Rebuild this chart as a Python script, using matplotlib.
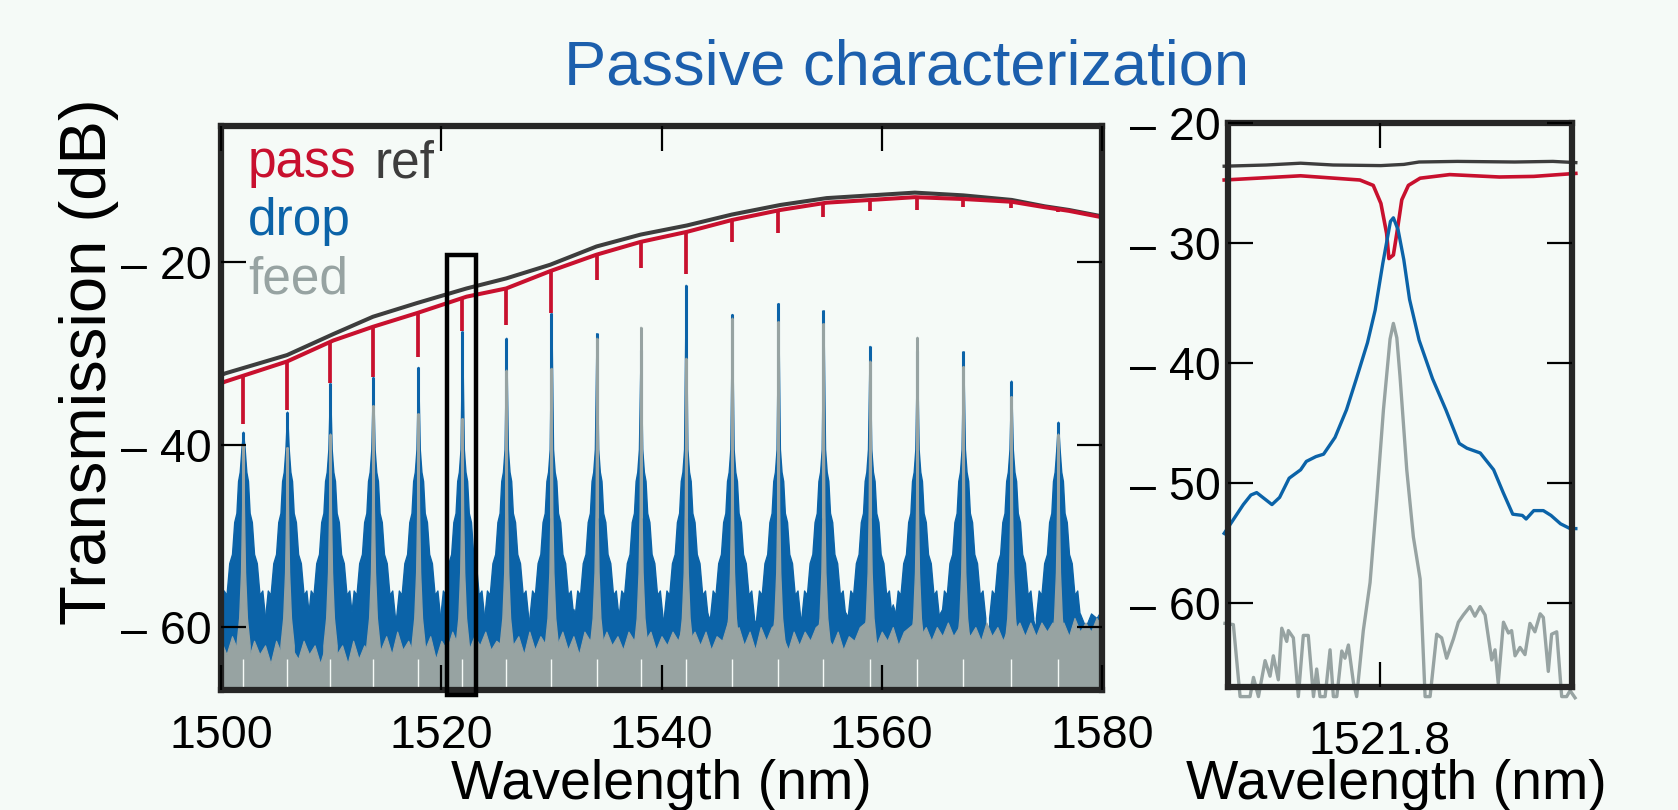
import numpy as np
import matplotlib
matplotlib.use("Agg")
import matplotlib.pyplot as plt
from matplotlib.patches import Rectangle
from matplotlib.ticker import FuncFormatter

# ── STYLE ──────────────────────────────────────────────────────────────────────
BG    = "#f5faf7"
RED   = "#c8102e"
BLUE  = "#0b63a8"
FEED  = "#97a3a2"
REF   = "#3d3d3d"
TITLE = "#1c5fad"
SPINE = "#262626"
W, H  = 1678, 810

plt.rcParams["font.family"] = ["Liberation Sans", "DejaVu Sans"]

# ── DATA: full spectrum ────────────────────────────────────────────────────────
REF_WL = [1500.0, 1500.4, 1506.0, 1510.2, 1513.8, 1517.8, 1522.3, 1525.9, 1529.9,
          1534.1, 1538.1, 1542.3, 1546.4, 1550.8, 1555.0, 1559.0, 1563.0, 1567.4,
          1571.8, 1574.8, 1577.0, 1580.0]
REF_DB = [-32.4, -32.2, -30.2, -27.9, -26.0, -24.5, -22.9, -21.8, -20.3,
          -18.3, -17.0, -16.0, -14.8, -13.75, -13.0, -12.7, -12.4, -12.7,
          -13.2, -13.9, -14.3, -15.0]

PASS_WL = REF_WL
PASS_DB = [-33.3, -33.1, -30.9, -28.6, -27.1, -25.6, -23.8, -22.9, -21.0,
           -19.2, -17.8, -16.7, -15.4, -14.3, -13.5, -13.2, -12.9, -13.1,
           -13.4, -14.0, -14.4, -15.1]

# resonances
RES_WL    = [1502.0, 1506.0, 1509.9, 1513.8, 1517.9, 1521.9, 1525.9, 1530.0, 1534.1,
             1538.1, 1542.2, 1546.4, 1550.6, 1554.7, 1558.9, 1563.2, 1567.4, 1571.75,
             1576.0]
PASS_BASE = [-32.6, -30.9, -28.7, -27.1, -25.6, -24.0, -22.9, -21.0, -19.2,
             -17.8, -16.6, -15.4, -14.4, -13.7, -13.2, -13.0, -13.2, -13.5, -14.1]
PASS_DIP  = [-37.7, -36.2, -33.3, -32.6, -30.4, -27.6, -26.9, -25.6, -22.0,
             -20.7, -21.3, -17.8, -16.8, -15.1, -14.4, -14.3, -14.0, -14.1, -14.5]
DROP_PEAK = [-38.6, -36.4, -33.3, -32.6, -31.5, -27.6, -28.3, -25.6, -27.8,
             -29.6, -22.5, -25.7, -24.5, -25.3, -29.2, -29.7, -29.8, -33.0, -37.5]
FEED_PEAK = [-40.0, -40.3, -38.8, -35.7, -36.6, -37.1, -31.8, -31.6, -28.3,
             -27.1, -30.5, -26.1, -26.5, -26.7, -30.8, -28.2, -31.4, -34.7, -38.8]

# half-profiles of a resonance (offset from centre in nm, level in dB)
DROP_WING_DX = [-2.0, -1.75, -1.5, -1.25, -1.0, -0.8, -0.6, -0.45, -0.3, -0.15]
DROP_WING_DB = [-59.0, -56.0, -56.5, -53.0, -52.0, -48.5, -47.5, -44.0, -43.0, -40.5]
FEED_WING_DX = [-0.6, -0.35, -0.18, -0.08]
FEED_WING_DB = [-62.0, -59.0, -54.0, -47.0]

# noise floor tops, every 0.5 nm from 1500 to 1580
DROP_FLOOR = [
    -60, -61.5, -59, -57, -56, -57.5, -60, -61, -62, -60.5,
    -59, -57.5, -56, -58, -60, -61.5, -60.5, -62, -59.5, -57.5,
    -56, -57, -59.5, -61, -59.5, -60.5, -59, -57, -56, -57.5,
    -59, -60.5, -58.5, -60, -58.5, -57, -55.5, -57.5, -59, -60.5,
    -59, -60.5, -59, -57, -55.5, -56.5, -58.5, -57.5, -59.5, -58,
    -57.5, -56, -55, -56.5, -58.5, -57, -59.5, -58, -57.5, -56,
    -55, -56.5, -58, -59.5, -58, -60, -57.5, -56, -55, -56,
    -58, -59.5, -58, -59, -57.5, -56.5, -55, -56.5, -58.5, -57,
    -59.5, -58, -57.5, -56, -54.5, -56, -57.5, -59, -58, -59.5,
    -57.5, -56.5, -55, -55.5, -57.5, -59, -57.5, -59.5, -58, -57,
    -56, -55, -56.5, -58.5, -57, -59.5, -58, -57.5, -56.5, -55,
    -56.5, -58, -59.5, -58, -59, -57.5, -56.5, -55, -56, -57.5,
    -56, -59, -57.5, -59.5, -57.5, -56, -55, -56.5, -58.5, -57,
    -59, -58, -59.5, -57.5, -56, -55.5, -57.5, -59.5, -58, -60.5,
    -59, -58.5, -57, -56, -56.5, -58, -60, -58.5, -60, -58.5,
    -57, -56, -55.5, -57, -59, -60.5, -58.5, -60, -58.5, -59,
    -58,
]
FEED_FLOOR = [
    -61.5, -63, -61, -62.5, -61, -63.5, -61.5, -63, -62, -64,
    -61.5, -63, -61, -62.5, -63.5, -61.5, -63, -62, -64, -62,
    -61, -63, -62, -64, -61.5, -63.5, -62, -63, -61, -62.5,
    -61, -63, -60.5, -62.5, -61.5, -63, -61, -62.5, -61, -63.5,
    -61.5, -62.5, -60.5, -62, -60.5, -62.5, -61, -62, -60.5, -62.5,
    -61.5, -62, -60.5, -62, -61, -63, -60.5, -62.5, -61, -62,
    -60, -62, -60.5, -62.5, -61, -63, -60.5, -61.5, -60, -62,
    -60.5, -62, -61, -62.5, -60.5, -61.5, -59.5, -61.5, -60.5, -62.5,
    -61, -62, -60.5, -61.5, -59.5, -61.5, -60.5, -62, -60.5, -62.5,
    -61, -61.5, -59.5, -61, -60, -62, -60.5, -62.5, -60, -61.5,
    -60, -59.5, -61, -62.5, -60.5, -62, -60.5, -61.5, -60, -59.5,
    -61, -62, -60.5, -62.5, -61, -61.5, -60, -59.5, -61, -62,
    -60.5, -61.5, -60, -62, -60.5, -60, -59.5, -61, -60, -61.5,
    -60, -61, -59.5, -61, -60, -59.5, -61, -60, -61.5, -59.5,
    -61, -60, -61.5, -60, -60.5, -59.5, -61, -59.5, -61, -59.5,
    -60.5, -59.5, -60, -59.5, -61, -59, -60.5, -59.5, -60.5, -59,
    -60,
]

# zoom window (box drawn on the full spectrum)
BOX_WL = (1520.5, 1523.2)
BOX_DB = (-67.45, -19.2)

# ── DATA: zoom on one resonance ────────────────────────────────────────────────
ZOOM_REF_WL = [1520.577, 1520.907, 1521.177, 1521.432, 1521.807, 1521.987, 1522.107,
               1522.407, 1522.857, 1523.157, 1523.337]
ZOOM_REF_DB = [-23.6, -23.5, -23.35, -23.5, -23.55, -23.45, -23.25,
               -23.2, -23.25, -23.2, -23.3]

ZOOM_PASS_WL = [1520.577, 1521.177, 1521.642, 1521.747, 1521.807, 1521.852, 1521.870,
                1521.905, 1521.932, 1521.971, 1522.023, 1522.115, 1522.347, 1522.737,
                1523.007, 1523.337]
ZOOM_PASS_DB = [-24.75, -24.4, -24.75, -25.2, -26.7, -29.2, -31.3,
                -31.0, -29.2, -26.4, -25.2, -24.6, -24.3, -24.5,
                -24.45, -24.2]

ZOOM_DROP_WL = [1520.577, 1520.652, 1520.727, 1520.787, 1520.832, 1520.892, 1520.952,
                1521.012, 1521.087, 1521.177, 1521.222, 1521.297, 1521.357, 1521.447,
                1521.537, 1521.612, 1521.702, 1521.762, 1521.822, 1521.882, 1521.905,
                1521.942, 1521.987, 1522.032, 1522.107, 1522.212, 1522.317, 1522.422,
                1522.482, 1522.587, 1522.692, 1522.767, 1522.842, 1522.917, 1522.947,
                1523.007, 1523.082, 1523.142, 1523.217, 1523.292, 1523.337]
ZOOM_DROP_DB = [-54.2, -53.0, -51.8, -51.0, -50.8, -51.3, -51.8,
                -51.2, -49.6, -48.9, -48.2, -47.8, -47.6, -46.2,
                -43.9, -41.4, -38.3, -35.6, -31.7, -28.2, -27.9,
                -28.9, -31.4, -34.7, -38.1, -41.3, -43.9, -46.7,
                -47.1, -47.5, -48.9, -50.8, -52.6, -52.7, -53.0,
                -52.3, -52.3, -52.7, -53.4, -53.8, -53.8]

ZOOM_FEED_WL = [1520.583, 1520.649, 1520.702, 1520.780, 1520.807, 1520.846, 1520.898,
                1520.937, 1520.963, 1521.002, 1521.029, 1521.068, 1521.081, 1521.120,
                1521.159, 1521.198, 1521.237, 1521.278, 1521.303, 1521.329, 1521.369,
                1521.408, 1521.434, 1521.461, 1521.500, 1521.525, 1521.552, 1521.591,
                1521.617, 1521.669, 1521.722, 1521.774, 1521.827, 1521.879, 1521.905,
                1521.932, 1521.957, 1522.010, 1522.062, 1522.115, 1522.154, 1522.193,
                1522.245, 1522.284, 1522.323, 1522.376, 1522.415, 1522.454, 1522.506,
                1522.545, 1522.586, 1522.625, 1522.677, 1522.703, 1522.728, 1522.769,
                1522.808, 1522.833, 1522.860, 1522.899, 1522.938, 1522.977, 1523.016,
                1523.057, 1523.082, 1523.121, 1523.147, 1523.187, 1523.226, 1523.265,
                1523.292, 1523.331]
ZOOM_FEED_DB = [-61.7, -61.8, -67.8, -67.8, -66.2, -67.8, -64.8,
                -66.1, -64.4, -66.4, -62.1, -63.2, -62.3, -62.9,
                -67.8, -62.7, -62.7, -67.8, -65.5, -67.8, -67.8,
                -63.9, -67.8, -67.8, -64.0, -64.6, -63.5, -66.6,
                -67.8, -62.3, -58.3, -51.4, -43.9, -38.0, -36.7,
                -37.9, -41.1, -48.9, -54.5, -58.0, -67.8, -67.8,
                -62.6, -62.9, -64.6, -63.0, -61.6, -61.0, -60.3,
                -61.1, -60.3, -61.0, -64.75, -63.9, -66.7, -61.6,
                -62.5, -62.3, -64.4, -63.7, -64.3, -61.7, -62.4,
                -60.9, -61.2, -65.7, -62.6, -62.4, -67.8, -67.8,
                -67.3, -67.9]


# ── HELPERS ────────────────────────────────────────────────────────────────────
def fpos(x, y):
    """pixel position in the 1678x810 picture -> figure fraction"""
    return x / W, 1 - y / H


def db_label(v, _pos):
    # long dash set a little apart from the digits, as in the original
    return f"\u2013 {abs(v):.0f}" if v < 0 else f"{v:.0f}"


def style_axes(ax):
    ax.set_facecolor(BG)
    ax.set_axisbelow(False)
    for s in ax.spines.values():
        s.set_linewidth(4.5)
        s.set_color(SPINE)
    ax.tick_params(direction="in", length=18, width=1.6, colors="black",
                   labelsize=33.5, top=True, right=True)
    ax.yaxis.set_major_formatter(FuncFormatter(db_label))


def peak_shape(centre, peak, wing_dx, wing_db):
    dx = np.array(wing_dx)
    x = np.concatenate([centre + dx, [centre], centre - dx[::-1]])
    y = np.concatenate([wing_db, [peak], wing_db[::-1]])
    return x, y


# ── PLOT ───────────────────────────────────────────────────────────────────────
fig = plt.figure(figsize=(W / 100, H / 100), dpi=100, facecolor=BG)

ax  = fig.add_axes([221 / W, 1 - 690 / H, 881 / W, 564 / H])
axz = fig.add_axes([1228 / W, 1 - 687 / H, 344 / W, 564 / H])

# full spectrum
style_axes(ax)
floor_wl = np.linspace(1500, 1580, len(DROP_FLOOR))

ax.plot(REF_WL, REF_DB, color=REF, lw=2.9, zorder=1.0)
ax.plot(PASS_WL, PASS_DB, color=RED, lw=2.9, zorder=1.1)
ax.vlines(RES_WL, PASS_BASE, PASS_DIP, color=RED, lw=2.7, zorder=1.2)

ax.fill_between(floor_wl, -80, DROP_FLOOR, color=BLUE, lw=0.8, zorder=1.3)
for c, pk in zip(RES_WL, DROP_PEAK):
    x, y = peak_shape(c, pk, DROP_WING_DX, DROP_WING_DB)
    ax.fill_between(x, -80, y, color=BLUE, lw=1.0, zorder=1.3)
ax.vlines(RES_WL, -42, DROP_PEAK, color=BLUE, lw=2.2, zorder=1.35)

ax.fill_between(floor_wl, -80, FEED_FLOOR, color=FEED, lw=0.8, zorder=1.5)
for c, pk in zip(RES_WL, FEED_PEAK):
    x, y = peak_shape(c, pk, FEED_WING_DX, FEED_WING_DB)
    ax.fill_between(x, -80, y, color=FEED, lw=1.0, zorder=1.5)
ax.vlines(RES_WL, -48, FEED_PEAK, color=FEED, lw=2.2, zorder=1.55)

# thin gaps in the feed floor right at each resonance
ax.vlines(RES_WL, -80, -63.5, color=BG, lw=1.0, zorder=1.7)

ax.add_patch(Rectangle((BOX_WL[0], BOX_DB[0]), BOX_WL[1] - BOX_WL[0],
                       BOX_DB[1] - BOX_DB[0], fill=False, ec="black", lw=3.2,
                       clip_on=False, zorder=3))

ax.set_xlim(1500, 1580)
ax.set_ylim(-66.9, -5.1)
ax.set_xticks([1500, 1520, 1540, 1560, 1580])
ax.set_yticks([-20, -40, -60])
ax.tick_params(axis="x", pad=17)
ax.tick_params(axis="y", pad=7)

# zoom panel
style_axes(axz)
axz.plot(ZOOM_REF_WL, ZOOM_REF_DB, color=REF, lw=2.4, clip_on=False, zorder=1.0)
axz.plot(ZOOM_PASS_WL, ZOOM_PASS_DB, color=RED, lw=2.6, clip_on=False, zorder=1.1)
axz.plot(ZOOM_DROP_WL, ZOOM_DROP_DB, color=BLUE, lw=2.4, clip_on=False, zorder=1.2)
axz.plot(ZOOM_FEED_WL, ZOOM_FEED_DB, color=FEED, lw=2.4, clip_on=False, zorder=1.3)

axz.set_xlim(1520.607, 1523.307)
axz.set_ylim(-67, -20)
axz.set_xticks([1521.8])
axz.set_xticklabels(["1521.8"])
axz.set_yticks([-20, -30, -40, -50, -60])
axz.tick_params(axis="x", pad=24)
axz.tick_params(axis="y", pad=5)

# texts
fig.text(*fpos(907, 68), "Passive characterization", ha="center", va="center",
         fontsize=45.5, color=TITLE)

fig.text(*fpos(248, 177), "pass", fontsize=37, color=RED, va="baseline")
fig.text(*fpos(375, 177), "ref", fontsize=37, color=REF, va="baseline")
fig.text(*fpos(248, 235), "drop", fontsize=37, color=BLUE, va="baseline")
fig.text(*fpos(248, 293), "feed", fontsize=37, color=FEED, va="baseline")

fig.text(*fpos(89, 362), "Transmission (dB)", rotation=90, ha="center",
         va="center", fontsize=47)
fig.text(*fpos(661, 799), "Wavelength (nm)", ha="center", va="baseline",
         fontsize=40)
fig.text(*fpos(1396, 799), "Wavelength (nm)", ha="center", va="baseline",
         fontsize=40)

fig.savefig("out.png", dpi=100, facecolor=BG)
